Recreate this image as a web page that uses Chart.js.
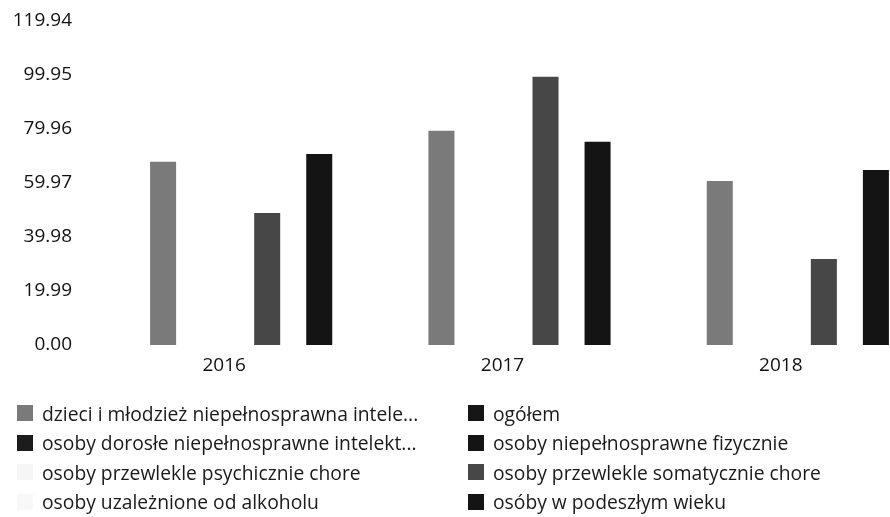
<!DOCTYPE html>
<html>
<head>
<meta charset="utf-8">
<script src="https://cdn.jsdelivr.net/npm/chart.js@4.4.1/dist/chart.umd.min.js"></script>
<style>
    html, body { margin: 0; padding: 0; background: #fff; overflow: hidden; width: 890px; height: 517px; }
    #chart { position: absolute; left: 0; top: 0; }
    #legend { position: absolute; left: 0; top: 0; width: 890px; height: 517px; font-family: 'Open Sans', sans-serif; font-size: 19.3px; color: #1a1a1a; }
    .item { position: absolute; height: 30px; display: flex; align-items: center; white-space: nowrap; }
    .box { width: 16px; height: 16px; margin-right: 9px; flex: none; }
</style>
</head>
<body>
<canvas id="chart" width="937" height="385"></canvas>
<div id="legend"></div>
<script>
const years = ['2016', '2017', '2018'];

const seriesNames = [
    'dzieci i młodzież niepełnosprawna intele...',
    'osoby dorosłe niepełnosprawne intelekt...',
    'osoby przewlekle psychicznie chore',
    'osoby uzależnione od alkoholu',
    'ogółem',
    'osoby niepełnosprawne fizycznie',
    'osoby przewlekle somatycznie chore',
    'osóby w podeszłym wieku'
];

// values
const dzieciMlodziez = [67.8, 79.3, 60.7];
const dorosleIntelekt = [0, 0, 0];
const psychicznieChore = [null, null, null];
const uzaleznione = [null, null, null];
const ogolem = [null, null, null];
const niepelnosprawneFizycznie = [null, null, null];
const somatycznieChore = [48.9, 99.3, 31.8];
const podeszlyWiek = [70.7, 75.2, 64.8];

const yTicks = [0, 19.99, 39.98, 59.97, 79.96, 99.95, 119.94];

const seriesColors = ['#7a7a7a', '#1c1c1c', '#f6f6f6', '#f8f8f8', '#161616', '#141414', '#474747', '#141414'];

const seriesData = [dzieciMlodziez, dorosleIntelekt, psychicznieChore, uzaleznione,
    ogolem, niepelnosprawneFizycznie, somatycznieChore, podeszlyWiek];

const font = { family: 'Open Sans', size: 19 };

const chart = new Chart(document.getElementById('chart').getContext('2d'), {
    type: 'bar',
    data: {
        labels: years,
        datasets: seriesNames.map((name, i) => ({
            label: name,
            data: seriesData[i],
            backgroundColor: seriesColors[i],
            borderWidth: 0,
            barPercentage: 0.5,
            categoryPercentage: 0.748,
            skipNull: true
        }))
    },
    options: {
        responsive: false,
        animation: false,
        layout: { padding: { top: 21, right: 0, bottom: 0, left: 0 } },
        plugins: {
            legend: { display: false },
            tooltip: { enabled: false }
        },
        scales: {
            x: {
                grid: { display: false, drawTicks: false },
                border: { display: false },
                ticks: { font: font, color: '#111', padding: 9, labelOffset: -17, maxRotation: 0 },
                afterFit: s => { s.height = 40; }
            },
            y: {
                min: 0,
                max: 119.94,
                grid: { display: false, drawTicks: false },
                border: { display: false },
                afterBuildTicks: s => { s.ticks = yTicks.map(v => ({ value: v })); },
                ticks: { font: font, color: '#111', padding: 30, callback: v => v.toFixed(2) },
                afterFit: s => {
                    s.width = 102;
                    // the big tick padding should not push the plot down
                    s.paddingTop = 0;
                    s.paddingBottom = 0;
                }
            }
        }
    }
});

// two column legend, filled column by column
const legendEl = document.getElementById('legend');
chart.data.datasets.forEach((ds, i) => {
    const col = Math.floor(i / 4);
    const row = i % 4;
    const item = document.createElement('div');
    item.className = 'item';
    item.style.left = (col === 0 ? 17 : 468) + 'px';
    item.style.top = (398 + row * 29.5) + 'px';
    const box = document.createElement('span');
    box.className = 'box';
    box.style.background = ds.backgroundColor;
    const text = document.createElement('span');
    text.textContent = ds.label;
    item.appendChild(box);
    item.appendChild(text);
    legendEl.appendChild(item);
});
</script>
</body>
</html>
